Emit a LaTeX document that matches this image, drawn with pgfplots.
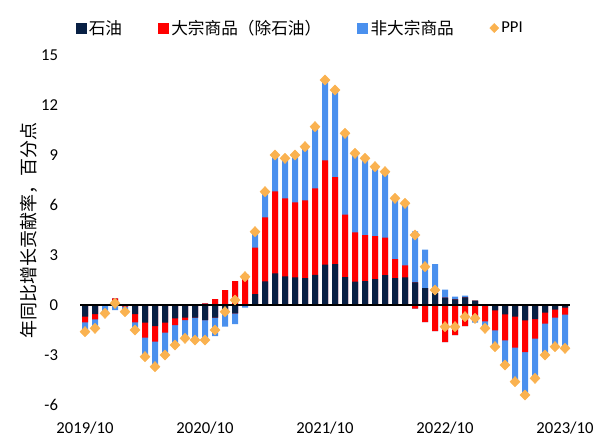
\documentclass[border=0pt]{standalone}
\usepackage{pgfplots}
\usepackage{pgfplotstable}
\pgfplotsset{compat=1.18}
\usepackage{fontspec}
\setmainfont{Carlito}
\newfontfamily\cjk{Noto Sans CJK SC}
\definecolor{navycol}{RGB}{8,32,68}
\definecolor{redcol}{RGB}{255,0,0}
\definecolor{bluecol}{RGB}{74,144,238}
\definecolor{ppicol}{RGB}{250,178,80}

\pgfplotstableread{
i oil bulk non ppi
0 -0.70 -0.34 -0.56 -1.6
1 -0.54 -0.32 -0.54 -1.4
2 -0.05 0.00 -0.45 -0.5
3 0.05 0.35 -0.30 0.1
4 -0.05 -0.05 -0.30 -0.4
5 -0.54 -0.50 -0.46 -1.5
6 -1.06 -0.90 -1.14 -3.1
7 -1.26 -0.94 -1.50 -3.7
8 -1.06 -0.60 -1.34 -3.0
9 -0.80 -0.40 -1.20 -2.4
10 -0.76 -0.14 -1.10 -2.0
11 -0.76 0.00 -1.34 -2.1
12 -0.90 0.10 -1.30 -2.1
13 -0.76 0.36 -1.10 -1.5
14 -0.50 0.90 -0.80 -0.4
15 -0.50 1.44 -0.64 0.3
16 0.00 1.85 -0.15 1.7
17 0.65 2.80 0.95 4.4
18 1.42 3.84 1.54 6.8
19 1.90 4.92 2.18 9.0
20 1.72 4.68 2.40 8.8
21 1.66 4.50 2.84 9.0
22 1.62 4.66 3.22 9.5
23 1.81 5.19 3.70 10.7
24 2.42 6.26 4.82 13.5
25 2.46 5.22 5.22 12.9
26 1.68 3.74 4.88 10.3
27 1.40 2.96 4.74 9.1
28 1.44 2.76 4.60 8.8
29 1.56 2.58 4.16 8.3
30 1.80 2.24 3.96 8.0
31 1.62 1.14 3.64 6.4
32 1.66 0.72 3.72 6.1
33 1.36 -0.22 3.06 4.2
34 1.02 -1.02 2.30 2.3
35 0.72 -1.56 1.74 0.9
36 0.44 -2.22 0.48 -1.3
37 0.34 -1.80 0.16 -1.3
38 0.46 -1.26 0.10 -0.7
39 0.26 -0.72 -0.34 -0.8
40 0.00 -0.98 -0.42 -1.4
41 -0.32 -1.20 -0.98 -2.5
42 -0.56 -1.56 -1.48 -3.6
43 -0.70 -1.86 -2.04 -4.6
44 -0.92 -1.90 -2.58 -5.4
45 -0.84 -1.18 -2.38 -4.4
46 -0.46 -0.66 -1.88 -3.0
47 -0.28 -0.48 -1.74 -2.5
48 -0.16 -0.42 -2.02 -2.6
}\data

\pgfplotsset{mybar/.style={ybar, bar width=4.5pt, bar shift=0pt, draw=none, forget plot}}

\begin{document}
\begin{tikzpicture}
\useasboundingbox (0,0) rectangle (450pt,327.75pt);
\begin{axis}[
  at={(60pt,24pt)}, anchor=south west,
  scale only axis, width=367.5pt, height=262.5pt,
  xmin=-0.5, xmax=48.5, ymin=-6, ymax=15,
  xtick={0,12,24,36,48},
  xticklabels={2019/10,2020/10,2021/10,2022/10,2023/10},
  ytick={-6,-3,0,3,6,9,12,15},
  axis line style={draw=none},
  major tick length=0pt,
  tick label style={font=\fontsize{12.5}{14}\selectfont},
  /pgf/number format/assume math mode=true,
  yticklabel style={xshift=-13pt},
  xticklabel style={yshift=-9pt},
  ylabel={年同比增长贡献率，百分点},
  ylabel style={at={(axis description cs:-0.105,0.5)}, anchor=center, font=\cjk\fontsize{13.5}{15}\selectfont},
  legend style={at={(axis description cs:0.45,1.077)}, anchor=center, draw=none, fill=none,
    font=\fontsize{12.5}{14}\selectfont,
    /tikz/every even column/.append style={column sep=25pt}},
  legend columns=4,
  legend cell align=left,
  clip=false,
]
% positive parts, drawn from the outer segment inwards
\addplot[mybar, fill=bluecol] table[x=i, y expr={max(\thisrow{oil},0)+max(\thisrow{bulk},0)+max(\thisrow{non},0)}] {\data};
\addplot[mybar, fill=redcol] table[x=i, y expr={max(\thisrow{oil},0)+max(\thisrow{bulk},0)}] {\data};
\addplot[mybar, fill=navycol] table[x=i, y expr={max(\thisrow{oil},0)}] {\data};
% negative parts
\addplot[mybar, fill=bluecol] table[x=i, y expr={min(\thisrow{oil},0)+min(\thisrow{bulk},0)+min(\thisrow{non},0)}] {\data};
\addplot[mybar, fill=redcol] table[x=i, y expr={min(\thisrow{oil},0)+min(\thisrow{bulk},0)}] {\data};
\addplot[mybar, fill=navycol] table[x=i, y expr={min(\thisrow{oil},0)}] {\data};

\draw[black, line width=1.2pt] (axis cs:-0.5,0) -- (axis cs:48.5,0);

\addplot[only marks, mark=diamond*, mark size=3.8pt, mark options={fill=ppicol, draw=ppicol, xscale=1.3}, forget plot]
  table[x=i, y=ppi] {\data};

\addlegendimage{legend image code/.code={\fill[navycol] (0pt,-3.75pt) rectangle (7.5pt,3.75pt);}}
\addlegendentry{\cjk 石油}
\addlegendimage{legend image code/.code={\fill[redcol] (0pt,-3.75pt) rectangle (7.5pt,3.75pt);}}
\addlegendentry{\cjk 大宗商品（除石油）}
\addlegendimage{legend image code/.code={\fill[bluecol] (0pt,-3.75pt) rectangle (7.5pt,3.75pt);}}
\addlegendentry{\cjk 非大宗商品}
\addlegendimage{only marks, mark=diamond*, mark size=3.4pt, mark options={fill=ppicol, draw=ppicol, xscale=1.3}}
\addlegendentry{PPI}
\end{axis}
\end{tikzpicture}
\end{document}
